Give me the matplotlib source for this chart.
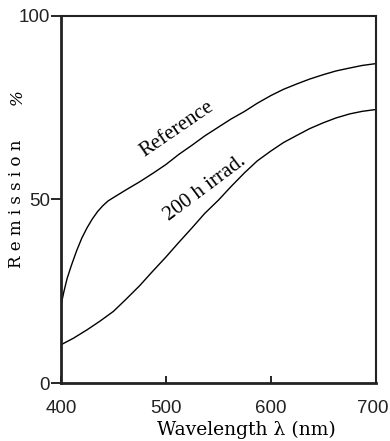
import matplotlib.pyplot as plt
from matplotlib.transforms import ScaledTranslation

# Data
wl_ref = [400, 403, 406, 410, 415, 420, 425, 430, 435, 440, 445, 450, 462, 475, 487, 500,
          512, 525, 537, 550, 562, 575, 587, 600, 612, 625, 637, 650, 662, 675, 687, 700]
rem_ref = [21, 25, 28.5, 32, 36, 39.5, 42.3, 44.7, 46.7, 48.3, 49.6, 50.5, 52.6, 54.8, 57, 59.5,
           62.2, 64.8, 67.3, 69.7, 71.9, 74, 76.2, 78.3, 80, 81.5, 82.8, 84, 85, 85.8, 86.5, 87]

wl_irr = [400, 412, 425, 437, 450, 462, 475, 487, 500, 512, 525, 537, 550,
          562, 575, 587, 600, 612, 625, 637, 650, 662, 675, 687, 700]
rem_irr = [10.4, 12.2, 14.5, 16.8, 19.5, 22.8, 26.5, 30.3, 34.3, 38.2, 42.3, 46.2, 49.8,
           53.5, 57.3, 60.5, 63.2, 65.5, 67.5, 69.3, 70.9, 72.2, 73.3, 74, 74.5]

x_ticks = [400, 500, 600, 700]
y_ticks = [0, 50, 100]

fig = plt.figure(figsize=(3.9, 4.41), dpi=100)
ax = fig.add_axes([0.156, 0.1315, 0.808, 0.8325])

ax.plot(wl_ref, rem_ref, color='k', lw=1.0)
ax.plot(wl_irr, rem_irr, color='k', lw=1.0)

ax.set_xlim(400, 700)
ax.set_ylim(0, 100)
ax.set_xticks(x_ticks)
ax.set_yticks(y_ticks)

for side, lw in [('left', 2.0), ('bottom', 2.0), ('right', 1.5), ('top', 1.5)]:
    ax.spines[side].set_linewidth(lw)
    ax.spines[side].set_color('#222222')

ax.tick_params(axis='x', direction='in', length=5, width=1.2, pad=12)
ax.tick_params(axis='y', direction='out', length=7, width=1.2, pad=1)
for lab in ax.get_xticklabels() + ax.get_yticklabels():
    lab.set_family('Liberation Sans')
    lab.set_fontsize(13.5)
    lab.set_color('#222222')
# nudge the last x label so it stays inside the picture
last = ax.get_xticklabels()[-1]
last.set_transform(last.get_transform() + ScaledTranslation(-2 / 72, 0, fig.dpi_scale_trans))

ax.text(0.59, -0.141, 'Wavelength λ (nm)', transform=ax.transAxes, family='DejaVu Serif',
        fontsize=13.5, ha='center', va='baseline')
fig.text(17 / 390, 1 - 204 / 441, 'R e m i s s i o n', family='DejaVu Serif', fontsize=12,
         rotation=90, ha='center', va='center')
fig.text(17 / 390, 1 - 97 / 441, '%', family='DejaVu Serif', fontsize=12, style='italic',
         rotation=90, ha='center', va='center')

ax.text(510.5, 69.1, 'Reference', family='Liberation Serif', fontsize=15,
        rotation=34.4, ha='center', va='center', rotation_mode='anchor')
ax.text(537, 53.1, '200 h irrad.', family='Liberation Serif', fontsize=15,
        rotation=36.8, ha='center', va='center', rotation_mode='anchor')

fig.savefig('out.png', dpi=100)
